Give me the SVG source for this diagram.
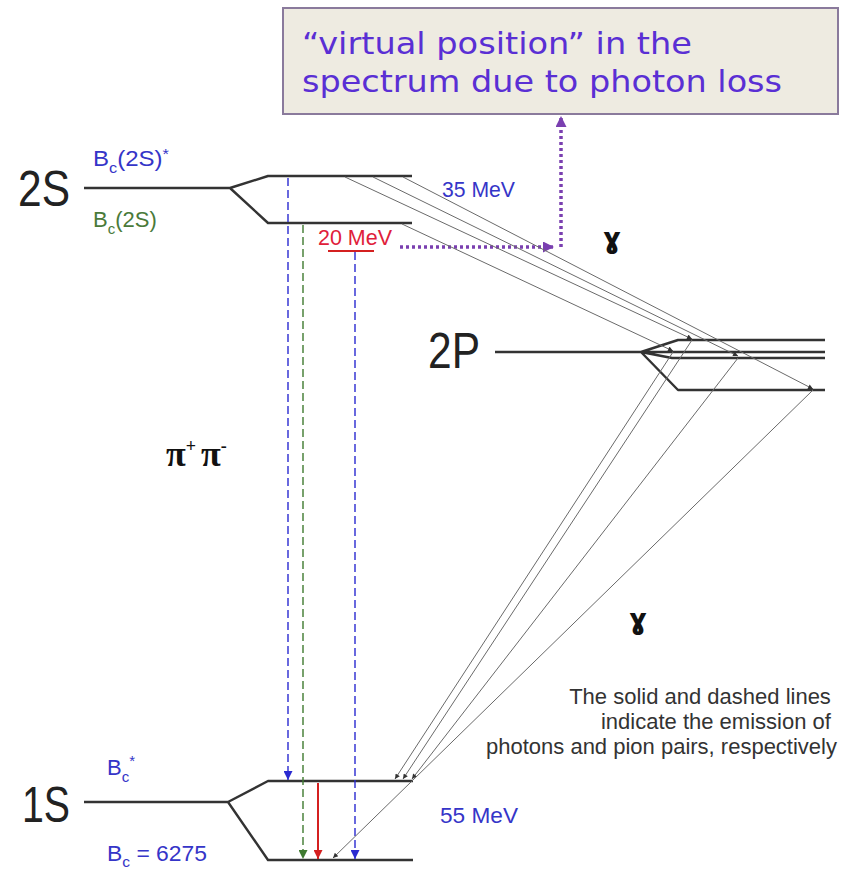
<svg xmlns="http://www.w3.org/2000/svg" width="842" height="873" viewBox="0 0 842 873">
<style>
.lvl{fill:none;stroke:#333;stroke-width:2.4;stroke-linejoin:round}
.big{font-family:"Liberation Sans",Arial,sans-serif;font-size:50px;fill:#222}
.lbl{font-family:"Liberation Sans",Arial,sans-serif;font-size:22px}
.sub{font-size:15px}
.ph{stroke:#6a6a6a;stroke-width:1;fill:none}
.note{font-family:"Liberation Sans",Arial,sans-serif;font-size:22px;fill:#333}
.gam{font-family:"DejaVu Sans",sans-serif;font-weight:bold;font-size:28px;fill:#111}
</style>
<defs>
<marker id="mb" viewBox="0 0 10 10" refX="10" refY="5" markerWidth="11" markerHeight="9" markerUnits="userSpaceOnUse" orient="auto"><path d="M0,0L10,5L0,10z" fill="#2a2ad0"/></marker>
<marker id="mg" viewBox="0 0 10 10" refX="10" refY="5" markerWidth="11" markerHeight="9" markerUnits="userSpaceOnUse" orient="auto"><path d="M0,0L10,5L0,10z" fill="#3f7a30"/></marker>
<marker id="mr" viewBox="0 0 10 10" refX="10" refY="5" markerWidth="11" markerHeight="9" markerUnits="userSpaceOnUse" orient="auto"><path d="M0,0L10,5L0,10z" fill="#d42020"/></marker>
<marker id="mp" viewBox="0 0 10 10" refX="10" refY="5" markerWidth="12" markerHeight="11" markerUnits="userSpaceOnUse" orient="auto"><path d="M0,0L10,5L0,10z" fill="#7a3fb0"/></marker>
<marker id="mk" viewBox="0 0 10 10" refX="10" refY="5" markerWidth="7" markerHeight="5" markerUnits="userSpaceOnUse" orient="auto"><path d="M0,0L10,5L0,10z" fill="#333"/></marker>
</defs>

<g id="note-box">
<rect x="283" y="8" width="555" height="106" fill="#eeebe1" stroke="#8a7a9c" stroke-width="2"/>
<text font-family="'DejaVu Sans',Verdana,sans-serif" font-size="31" fill="#5a2fd4">
<tspan x="302" y="54" textLength="390" lengthAdjust="spacingAndGlyphs">“virtual position” in the</tspan>
<tspan x="302" y="92" textLength="480" lengthAdjust="spacingAndGlyphs">spectrum due to photon loss</tspan>
</text>
</g>

<g id="level-2S">
<path class="lvl" d="M84,188H230L268,176H412M230,188L268,223H412"/>
<text class="big" x="18" y="206" textLength="52" lengthAdjust="spacingAndGlyphs">2S</text>
<text class="lbl" fill="#3535c8" x="93" y="166" textLength="76" lengthAdjust="spacingAndGlyphs">B<tspan class="sub" dy="7">c</tspan><tspan dy="-7">(2S)</tspan><tspan class="sub" dy="-7">*</tspan></text>
<text class="lbl" fill="#4a7a3a" x="93" y="227">B<tspan class="sub" dy="7">c</tspan><tspan dy="-7">(2S)</tspan></text>
<line x1="328" y1="251" x2="374" y2="251" stroke="#d42020" stroke-width="2"/>
<text class="lbl" fill="#e0203a" x="318" y="245" textLength="74" lengthAdjust="spacingAndGlyphs">20 MeV</text>
<text class="lbl" fill="#3535c8" x="442" y="197" textLength="73" lengthAdjust="spacingAndGlyphs">35 MeV</text>
</g>

<g id="level-2P">
<path class="lvl" d="M495,352H825M641,352L678,340H825M641,352L672,358H825M641,352L678,390H825"/>
<text class="big" x="428" y="368" textLength="52" lengthAdjust="spacingAndGlyphs">2P</text>
</g>

<g id="level-1S">
<path class="lvl" d="M84,802H228L268,781H413M228,802L268,860H413"/>
<text class="big" x="22" y="822" textLength="48" lengthAdjust="spacingAndGlyphs">1S</text>
<text class="lbl" fill="#3535c8" x="107" y="775">B<tspan class="sub" dy="7">c</tspan><tspan class="sub" dy="-16">*</tspan></text>
<text class="lbl" fill="#3535c8" x="107" y="861" textLength="100" lengthAdjust="spacingAndGlyphs">B<tspan class="sub" dy="6">c</tspan><tspan dy="-6"> = 6275</tspan></text>
<text class="lbl" fill="#3535c8" x="440" y="823" textLength="78" lengthAdjust="spacingAndGlyphs">55 MeV</text>
</g>

<g id="labels">
<text font-family="'Liberation Serif',serif" font-weight="bold" font-size="36" fill="#111" x="166" y="466">π<tspan font-size="18" dy="-14">+</tspan><tspan dy="14" dx="5">π</tspan><tspan font-size="18" dy="-14">-</tspan></text>
<text class="gam" x="603" y="248">ɣ</text>
<text class="gam" x="629" y="629">ɣ</text>
<text class="note" text-anchor="end">
<tspan x="837" y="704">The solid and dashed lines</tspan>
<tspan x="837" y="729">indicate the emission of</tspan>
<tspan x="837" y="754">photons and pion pairs, respectively</tspan>
</text>
</g>

<g id="connectors">
<line x1="288" y1="178" x2="288" y2="780" stroke="#2a2ad0" stroke-width="1.4" stroke-dasharray="8,4" marker-end="url(#mb)"/>
<line x1="303" y1="225" x2="303" y2="859" stroke="#3f7a30" stroke-width="1.4" stroke-dasharray="8,4" marker-end="url(#mg)"/>
<line x1="355" y1="252" x2="355" y2="859" stroke="#2a2ad0" stroke-width="1.4" stroke-dasharray="8,4" marker-end="url(#mb)"/>
<line x1="318" y1="783" x2="318" y2="859" stroke="#d42020" stroke-width="2" marker-end="url(#mr)"/>
<path d="M400,247H554" stroke="#7a3fb0" stroke-width="3.5" stroke-dasharray="3,3" fill="none" marker-end="url(#mp)"/>
<path d="M561,247V116" stroke="#7a3fb0" stroke-width="3.5" stroke-dasharray="3,3" fill="none" marker-end="url(#mp)"/>
<line class="ph" x1="345" y1="177" x2="692" y2="339" marker-end="url(#mk)"/>
<line class="ph" x1="373" y1="177" x2="738" y2="356" marker-end="url(#mk)"/>
<line class="ph" x1="403" y1="177" x2="813" y2="389" marker-end="url(#mk)"/>
<line class="ph" x1="402" y1="224" x2="673" y2="351" marker-end="url(#mk)"/>
<line class="ph" x1="673" y1="352" x2="395" y2="779" marker-end="url(#mk)"/>
<line class="ph" x1="692" y1="340" x2="403" y2="779" marker-end="url(#mk)"/>
<line class="ph" x1="738" y1="358" x2="412" y2="779" marker-end="url(#mk)"/>
<line class="ph" x1="813" y1="390" x2="333" y2="858" marker-end="url(#mk)"/>
</g>
</svg>
